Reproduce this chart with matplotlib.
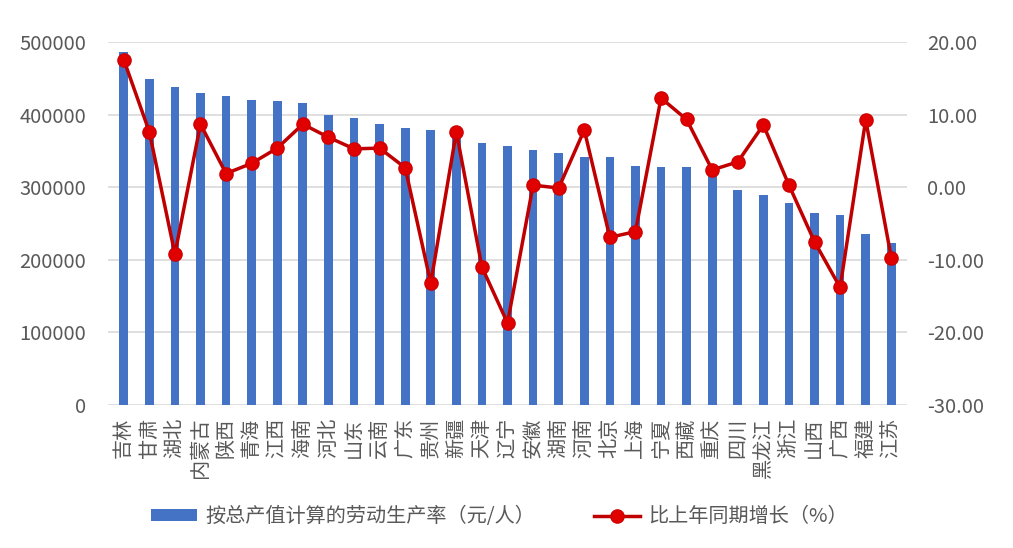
import numpy as np
import matplotlib
matplotlib.use("Agg")
import matplotlib.pyplot as plt

plt.rcParams["font.family"] = ["Noto Sans CJK SC", "DejaVu Sans"]

# provinces, sorted by labour productivity
provinces = ["吉林", "甘肃", "湖北", "内蒙古", "陕西", "青海", "江西", "海南", "河北", "山东",
             "云南", "广东", "贵州", "新疆", "天津", "辽宁", "安徽", "湖南", "河南", "北京",
             "上海", "宁夏", "西藏", "重庆", "四川", "黑龙江", "浙江", "山西", "广西", "福建", "江苏"]
productivity = [486000, 449000, 438000, 430000, 426000, 421000, 419000, 416000, 400000, 395000,
                387000, 382000, 379000, 375000, 361000, 357000, 352000, 347000, 342000, 342000,
                329000, 328000, 328000, 324000, 296000, 290000, 278000, 264000, 262000, 236000, 223000]
growth = [17.6, 7.65, -9.2, 8.7, 1.9, 3.3, 5.4, 8.7, 6.9, 5.3,
          5.4, 2.7, -13.2, 7.65, -11.0, -18.7, 0.3, -0.1, 7.9, -6.9,
          -6.1, 12.3, 9.35, 2.4, 3.5, 8.6, 0.3, -7.5, -13.8, 9.3, -9.7]

bar_label = "按总产值计算的劳动生产率（元/人）"
line_label = "比上年同期增长（%）"

grey = "#595959"
x = np.arange(len(provinces))

fig = plt.figure(figsize=(10.13, 5.48), dpi=100)
ax = fig.add_axes([0.107, 0.261, 0.788, 0.662])
ax2 = ax.twinx()

bars = ax.bar(x, productivity, width=0.34, color="#4472C4", label=bar_label, zorder=2)
line, = ax2.plot(x, growth, "-o", color="#C00000", lw=2.5, ms=9.5,
                 markerfacecolor="#E00000", markeredgecolor="#D00000", label=line_label, zorder=3)

ax.set_ylim(0, 500000)
ax.set_yticks(np.arange(0, 500001, 100000))
ax2.set_ylim(-30, 20)
ax2.set_yticks(np.arange(-30, 21, 10))
ax2.set_yticklabels([f"{v:.2f}" for v in np.arange(-30, 21, 10)])
ax.set_xlim(-0.6, len(provinces) - 0.4)

ax.grid(axis="y", color="#D9D9D9", lw=1.2, zorder=0)
ax.set_axisbelow(True)
for a in (ax, ax2):
    for s in a.spines.values():
        s.set_visible(False)
    a.tick_params(length=0, colors=grey, labelsize=14.5)
ax.tick_params(axis="y", pad=16)
ax2.tick_params(axis="y", pad=15)

ax.set_xticks(x)
ax.set_xticklabels(provinces, rotation=90, va="top", ha="center", fontsize=14.5)
ax.tick_params(axis="x", pad=9)

fig.legend([bars, line], [bar_label, line_label], loc="center", bbox_to_anchor=(0.493, 0.057),
           ncol=2, frameon=False, fontsize=14.5, labelcolor=grey, handlelength=2.3,
           handleheight=0.5, columnspacing=2.9, handletextpad=0.4)

fig.savefig("out.png", dpi=100)
